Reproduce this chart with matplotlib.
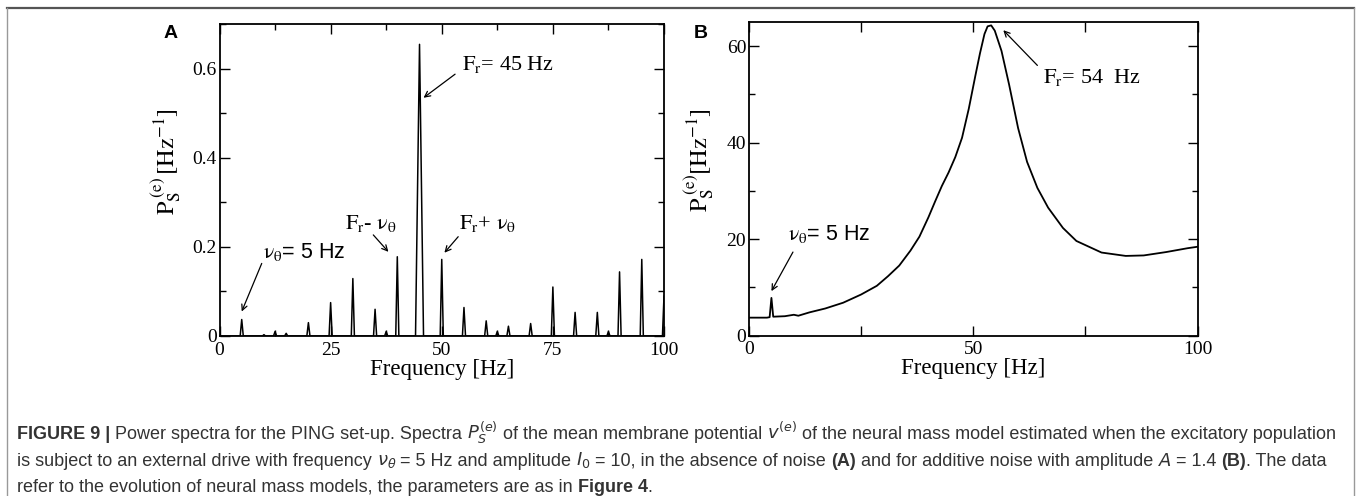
import numpy as np
import matplotlib
matplotlib.use('Agg')
import matplotlib.pyplot as plt
from matplotlib.lines import Line2D
from matplotlib.ticker import MultipleLocator

# panel A : peaks of the spectrum (no noise)
peak_freq = [5, 10, 12.5, 15, 20, 25, 30, 35, 37.5, 40, 45, 50,
             55, 60, 62.5, 65, 70, 75, 80, 85, 87.5, 90, 95, 100]
peak_height = [0.037, 0.003, 0.010, 0.006, 0.030, 0.075, 0.129, 0.060, 0.010, 0.178, 0.655, 0.172,
               0.064, 0.034, 0.010, 0.022, 0.028, 0.110, 0.053, 0.053, 0.010, 0.144, 0.172, 0.090]

# panel B : spectrum with additive noise
freq_b = [0, 4, 4.6, 5, 5.4, 8, 10, 11, 13.5, 17, 21, 25, 28.5, 31, 33.5, 36, 38, 40,
          41.5, 43, 44.5, 46, 47.5, 49, 50.5, 51.5, 52.5, 53.2, 54.0, 54.8, 56.3, 58, 60,
          62, 64.3, 66.7, 70, 73, 78.6, 84, 88, 93, 97.8, 100]
power_b = [3.7, 3.7, 3.8, 7.8, 3.9, 4.0, 4.3, 4.1, 4.8, 5.6, 6.8, 8.5, 10.3, 12.3, 14.5, 17.6, 20.5, 24.5,
           27.8, 31.0, 33.8, 37.0, 41.0, 47.0, 54.0, 58.5, 62.5, 64.1, 64.3, 63.2, 59.0, 52.0, 43.0,
           36.0, 30.6, 26.5, 22.3, 19.6, 17.2, 16.5, 16.6, 17.3, 18.1, 18.4]

W, H = 1358, 496
serif = 'Liberation Serif'
sans = 'Liberation Sans'

fig = plt.figure(figsize=(W / 100, H / 100), dpi=100)
fig.patch.set_facecolor('white')


def style_axes(ax):
    for s in ax.spines.values():
        s.set_linewidth(1.3)
    ax.tick_params(which='both', direction='in', top=True, right=True, width=1.0,
                   labelsize=14)
    ax.tick_params(which='major', length=7)
    ax.tick_params(which='minor', length=4)
    ax.tick_params(axis='y', pad=2)
    ax.tick_params(axis='x', pad=4)
    for lab in ax.get_xticklabels() + ax.get_yticklabels():
        lab.set_fontfamily(serif)
    ax.set_xlabel('Frequency [Hz]', fontsize=16.5, family=serif, labelpad=0)


arrow = dict(arrowstyle='->', color='black', lw=0.9, shrinkA=0, shrinkB=0)


def note(ax, txt, x, y, tail, head, size=16, family=serif):
    ax.text(x, y, txt, fontsize=size, family=family, math_fontfamily='stix',
            ha='left', va='center')
    ax.annotate('', xy=head, xytext=tail, arrowprops=arrow)


# ---- panel A
axA = fig.add_axes([219.5 / W, (H - 336) / H, 444.5 / W, 311.7 / H])
xs, ys = [0], [0]
for f, h in zip(peak_freq, peak_height):
    w = 0.9 if h > 0.5 else 0.35
    xs += [f - w, f, f + w]
    ys += [0, h, 0]
xs.append(100)
ys.append(0)
axA.plot(xs, ys, color='black', lw=1.1)
axA.set_xlim(0, 100)
axA.set_ylim(0, 0.7)
axA.xaxis.set_major_locator(MultipleLocator(25))
axA.xaxis.set_minor_locator(MultipleLocator(12.5))
axA.yaxis.set_minor_locator(MultipleLocator(0.1))
axA.set_yticks([0, 0.2, 0.4, 0.6])
axA.set_yticklabels(['0', '0.2', '0.4', '0.6'])
style_axes(axA)
axA.set_ylabel(r'$\mathrm{P_S^{\ (e)}\,[Hz^{-1}]}$', fontsize=17.5, math_fontfamily='stix')
axA.yaxis.set_label_coords(-0.082, 0.56)

note(axA, r'$\mathrm{F_r}$= 45 Hz', 54.5, 0.609, (53.0, 0.588), (45.9, 0.535))
note(axA, r'$\mathrm{F_r}$- $\mathrm{\nu_\theta}$', 28.2, 0.253, (34.6, 0.227), (38.0, 0.189))
note(axA, r'$\mathrm{F_r}$+ $\mathrm{\nu_\theta}$', 53.9, 0.253, (53.7, 0.223), (50.6, 0.187))
note(axA, r'$\mathrm{\nu_\theta}$= 5 Hz', 9.8, 0.189, (9.5, 0.163), (5.0, 0.055),
     size=15.5, family=sans)

# ---- panel B
axB = fig.add_axes([749 / W, (H - 335.5) / H, 448.5 / W, 313.5 / H])
axB.plot(freq_b, power_b, color='black', lw=1.3)
axB.set_xlim(0, 100)
axB.set_ylim(0, 65)
axB.set_xticks([0, 25, 50, 75, 100])
axB.set_xticklabels(['0', '', '50', '', '100'])
axB.set_yticks([0, 20, 40, 60])
axB.yaxis.set_minor_locator(MultipleLocator(10))
style_axes(axB)
axB.set_ylabel(r'$\mathrm{P_S^{\ (e)}[Hz^{-1}]}$', fontsize=17.5, math_fontfamily='stix')
axB.yaxis.set_label_coords(-0.074, 0.56)

note(axB, r'$\mathrm{F_r}$= 54  Hz', 65.5, 53.4, (64.3, 56.0), (56.7, 63.3))
note(axB, r'$\mathrm{\nu_\theta}$= 5 Hz', 8.7, 21.1, (9.8, 17.3), (5.0, 9.2),
     size=15.5, family=sans)

# panel letters
fig.text(171 / W, 1 - 33 / H, 'A', fontsize=14, weight='bold', family=sans, ha='center', va='center')
fig.text(701 / W, 1 - 33 / H, 'B', fontsize=14, weight='bold', family=sans, ha='center', va='center')

# frame of the figure box
fig.add_artist(Line2D([7 / W, 1354 / W], [1 - 8 / H, 1 - 8 / H], color='#555555', lw=1.6))
fig.add_artist(Line2D([7 / W, 7 / W], [0, 1 - 8 / H], color='#999999', lw=1.0))
fig.add_artist(Line2D([1354 / W, 1354 / W], [0, 1 - 8 / H], color='#999999', lw=1.0))

# ---- caption
renderer = fig.canvas.get_renderer()
cap_color = '#333333'

line1 = [('FIGURE 9 |', 'bold'), (' Power spectra for the PING set-up. Spectra ', 'normal'),
         (r'$P_S^{(e)}$', 'normal'), (' of the mean membrane potential ', 'normal'),
         (r'$v^{(e)}$', 'normal'),
         (' of the neural mass model estimated when the excitatory population', 'normal')]
line2 = [('is subject to an external drive with frequency ', 'normal'), (r'$\nu_\theta$', 'normal'),
         (' = 5 Hz and amplitude ', 'normal'), (r'$I_0$', 'normal'),
         (' = 10, in the absence of noise ', 'normal'), ('(A)', 'bold'),
         (' and for additive noise with amplitude ', 'normal'), (r'$A$', 'normal'),
         (' = 1.4 ', 'normal'), ('(B)', 'bold'), ('. The data', 'normal')]
line3 = [('refer to the evolution of neural mass models, the parameters are as in ', 'normal'),
         ('Figure 4', 'bold'), ('.', 'normal')]


def seg_width(txt, weight, size):
    a = fig.text(0, 0, '|' + txt + '|', fontsize=size, family=sans, weight=weight,
                 math_fontfamily='dejavusans')
    b = fig.text(0, 0, '||', fontsize=size, family=sans, weight=weight)
    w = a.get_window_extent(renderer).width - b.get_window_extent(renderer).width
    a.remove()
    b.remove()
    return w


def line_width(segs, size):
    return sum(seg_width(t, wt, size) for t, wt in segs)


size = 11.5
size = size * 1322 / line_width(line1, size)


def put_line(segs, y):
    x = 17
    for txt, wt in segs:
        fig.text(x / W, 1 - y / H, txt, fontsize=size, family=sans, weight=wt,
                 color=cap_color, math_fontfamily='dejavusans', va='baseline')
        x += seg_width(txt, wt, size)


put_line(line1, 439)
put_line(line2, 465.5)
put_line(line3, 491.5)

fig.savefig('out.png', dpi=100)
